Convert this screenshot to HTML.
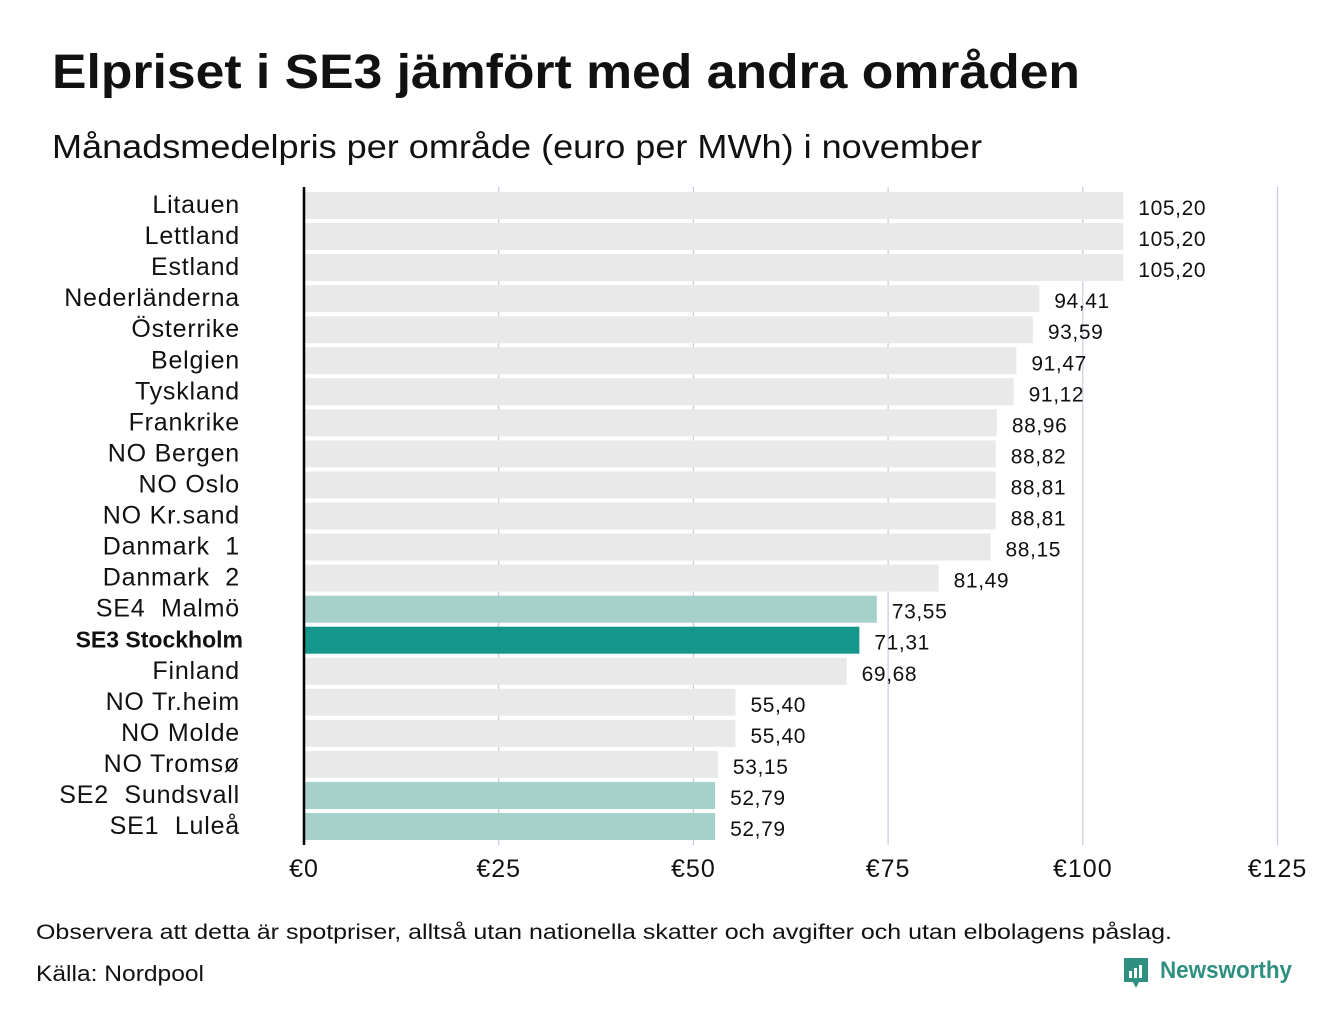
<!DOCTYPE html>
<html><head><meta charset="utf-8"><style>
body{margin:0;background:#fff;width:1340px;height:1020px;overflow:hidden;font-family:"Liberation Sans","DejaVu Sans",sans-serif}
text{white-space:pre}
</style></head><body>
<svg id="c" width="1340" height="1020" xmlns="http://www.w3.org/2000/svg">
<text x="52" y="88" font-size="48" font-weight="bold" fill="#111" textLength="1028" lengthAdjust="spacingAndGlyphs">Elpriset i SE3 jämfört med andra områden</text>
<text x="52" y="158" font-size="33" fill="#111" textLength="930" lengthAdjust="spacingAndGlyphs">Månadsmedelpris per område (euro per MWh) i november</text>
<g id="grid"></g><g id="bars"></g>
<line x1="304" y1="187" x2="304" y2="845" stroke="#000" stroke-width="2.5"/>
<text x="36" y="939" font-size="21" fill="#111" textLength="1136" lengthAdjust="spacingAndGlyphs">Observera att detta är spotpriser, alltså utan nationella skatter och avgifter och utan elbolagens påslag.</text>
<text x="36" y="981" font-size="22" fill="#111" textLength="168" lengthAdjust="spacingAndGlyphs">Källa: Nordpool</text>
<g>
<path d="M1124 958h24v24h-9l-3 6-3-6h-9z" fill="#2f8f80"/>
<rect x="1129" y="971" width="3" height="7" fill="#fff"/><rect x="1134" y="968" width="3" height="10" fill="#fff"/><rect x="1139" y="965" width="3" height="13" fill="#fff"/>
<text x="1160" y="978" font-size="24" font-weight="bold" fill="#2f8f80" textLength="132" lengthAdjust="spacingAndGlyphs">Newsworthy</text>
</g>
</svg>
<script>
const categories=["Litauen","Lettland","Estland","Nederländerna","Österrike","Belgien","Tyskland","Frankrike","NO Bergen","NO Oslo","NO Kr.sand","Danmark  1","Danmark  2","SE4  Malmö","SE3 Stockholm","Finland","NO Tr.heim","NO Molde","NO Tromsø","SE2  Sundsvall","SE1  Luleå"];
const values=[105.20,105.20,105.20,94.41,93.59,91.47,91.12,88.96,88.82,88.81,88.81,88.15,81.49,73.55,71.31,69.68,55.40,55.40,53.15,52.79,52.79];
const valueLabels=["105,20","105,20","105,20","94,41","93,59","91,47","91,12","88,96","88,82","88,81","88,81","88,15","81,49","73,55","71,31","69,68","55,40","55,40","53,15","52,79","52,79"];
const ticks=[0,25,50,75,100,125];
const tickLabels=["€0","€25","€50","€75","€100","€125"];
const NS="http://www.w3.org/2000/svg";
const x=v=>304+v*7.788;
const y=i=>192+i*31.05;
function mk(t,a,p){const e=document.createElementNS(NS,t);for(const k in a)e.setAttribute(k,a[k]);p.appendChild(e);return e;}
const g=document.getElementById('grid'),b=document.getElementById('bars');
ticks.forEach((t,i)=>{
 if(t>0){const l=mk('line',{x1:x(t),x2:x(t),y1:187,y2:845,stroke:'#c9c9dd','stroke-width':1.2},g);
 
 }
 const tx=mk('text',{x:x(t),y:877,'font-size':25,'text-anchor':'middle',fill:'#111','letter-spacing':1},g);tx.textContent=tickLabels[i];
 
 
});
categories.forEach((c,i)=>{
 const se3=c==="SE3 Stockholm", se=/^SE/.test(c);
 const r=mk('rect',{x:305,y:y(i),width:x(values[i])-305,height:27,fill:se3?'#14968a':(se?'#a6d0ca':'#e9e9e9')},b);
 
 
 const lb=mk('text',{x:240,y:y(i)+21,'font-size':se3?23:25,'font-weight':se3?'bold':'normal','text-anchor':'end',fill:'#111','letter-spacing':se3?0:0.8},b);lb.textContent=c;
 if(se3)lb.setAttribute('x',243);
 
 
 const vl=mk('text',{x:x(values[i])+15,y:y(i)+23,'font-size':21,fill:'#111','letter-spacing':0.6},b);vl.textContent=valueLabels[i];
 
 
});
</script>
</body></html>
